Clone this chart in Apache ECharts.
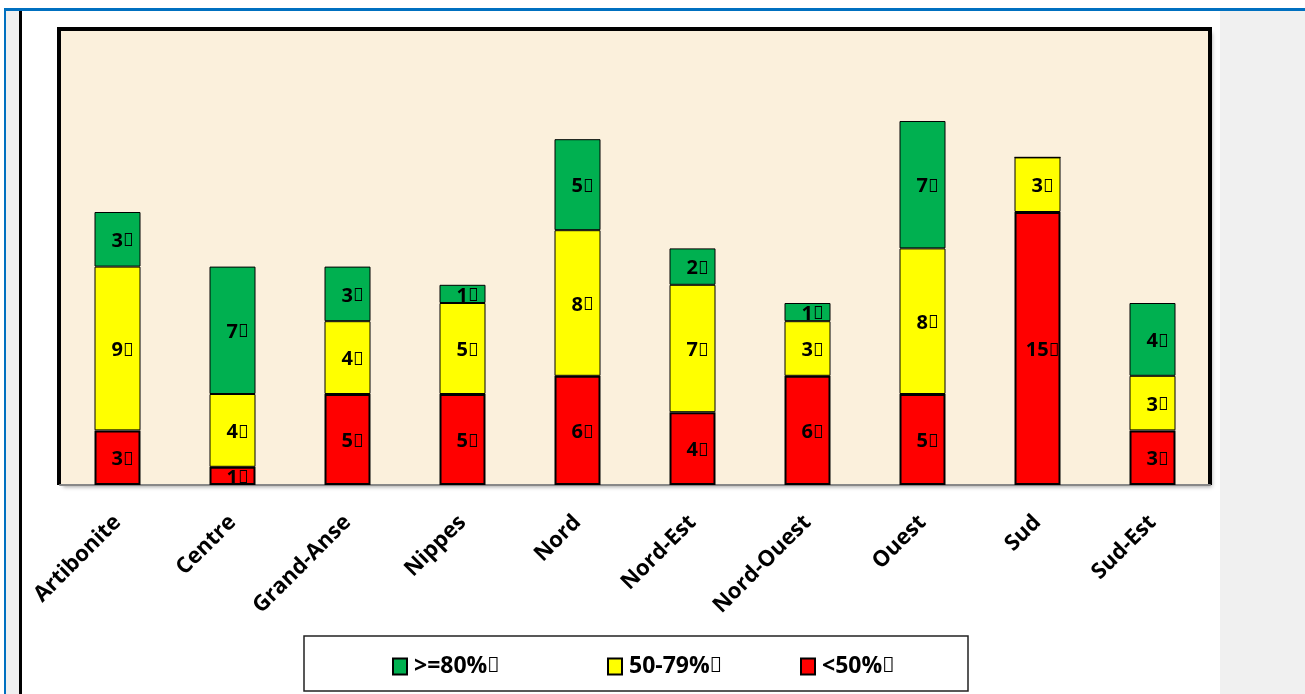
<!DOCTYPE html>
<html><head><meta charset="utf-8">
<script src="https://cdn.jsdelivr.net/npm/echarts@6/dist/echarts.min.js"></script>
<style>html,body{margin:0;padding:0;background:#fff}#c{width:1305px;height:694px}</style>
</head><body><div id="c"></div>
<script>
const BOX = '\uE000';
const categories = ['Artibonite','Centre','Grand-Anse','Nippes','Nord','Nord-Est','Nord-Ouest','Ouest','Sud','Sud-Est'];
const redValues = [3,1,5,5,6,4,6,5,15,3];
const yellowValues = [9,4,4,5,8,7,3,8,3,3];
const greenValues = [3,7,3,1,5,2,1,7,0,4];
const seriesNames = ['<50%' + BOX, '50-79%' + BOX, '>=80%' + BOX];
const yMax = 25;

const chart = echarts.init(document.getElementById('c'));
const labelStyle = {
  show: true, position: 'inside', offset: [5, 2],
  color: '#000', fontWeight: 'bold', fontSize: 20, fontFamily: 'Open Sans',
  formatter: p => p.value ? '{d|' + p.value + '}{b|' + BOX + '}' : '',
  rich: {
    d: { fontWeight: 'bold', fontSize: 20, fontFamily: 'Open Sans', color: '#000' },
    b: { fontSize: 18, fontFamily: 'Noto Sans', color: '#000' }
  }
};
function mk(name, data, color, bw) {
  return {
    name, type: 'bar', stack: 'total', data, barWidth: 46,
    itemStyle: { color, borderColor: '#000', borderWidth: bw },
    label: labelStyle
  };
}
function lg(name, left) {
  return {
    data: [name], left, top: 655, padding: 0, itemWidth: 14, itemHeight: 16, itemGap: 0,
    icon: 'rect', selectedMode: false,
    formatter: n => '{t|' + n.slice(0, -1) + '}{b|' + BOX + '}',
    textStyle: {
      fontSize: 23, fontWeight: 'bold', fontFamily: 'Open Sans', color: '#000', padding: [0, 0, 0, 2],
      rich: {
        t: { fontSize: 23, fontWeight: 'bold', fontFamily: 'Open Sans', color: '#000' },
        b: { fontSize: 21, fontFamily: 'Noto Sans', color: '#000' }
      }
    }
  };
}
chart.setOption({
  animation: false,
  graphic: [
    { type: 'rect', shape: { x: 1220, y: 10, width: 85, height: 684 }, style: { fill: '#F0F0F0' }, z: -10 },
    { type: 'rect', shape: { x: 6, y: 10, width: 14, height: 684 }, style: { fill: '#F0F0F0' }, z: -10 },
    { type: 'rect', shape: { x: 4, y: 8, width: 1301, height: 3 }, style: { fill: '#0070C0' }, z: 10 },
    { type: 'rect', shape: { x: 4, y: 8, width: 2, height: 686 }, style: { fill: '#0070C0' }, z: 10 },
    { type: 'rect', shape: { x: 19, y: 11, width: 3, height: 683 }, style: { fill: '#000' }, z: 10 },
    { type: 'rect', shape: { x: 61, y: 31, width: 1149, height: 454 },
      style: { fill: '#FBF0DC', shadowBlur: 4, shadowOffsetX: 2, shadowOffsetY: 2, shadowColor: 'rgba(0,0,0,0.35)' }, z: -6 },
    { type: 'polyline', shape: { points: [[59, 485], [59, 29], [1210, 29], [1210, 485]] },
      style: { fill: null, stroke: '#000', lineWidth: 4 }, z: -5 },
    { type: 'rect', shape: { x: 304, y: 636, width: 664, height: 55 }, style: { fill: '#fff', stroke: '#222', lineWidth: 1.5 }, z: -5 }
  ],
  grid: { left: 60, right: 95, top: 30, bottom: 209 },
  legend: [lg(seriesNames[2], 392), lg(seriesNames[1], 607), lg(seriesNames[0], 800)],
  xAxis: {
    type: 'category', data: categories,
    axisLine: { lineStyle: { color: '#888', width: 2 } },
    axisTick: { lineStyle: { color: '#999' }, length: 7 },
    axisLabel: { rotate: 45, margin: 34, fontSize: 22, fontWeight: 'bold', fontFamily: 'Open Sans', color: '#000', interval: 0 }
  },
  yAxis: { type: 'value', min: 0, max: yMax, show: false, splitLine: { show: false } },
  series: [
    mk(seriesNames[0], redValues, '#FF0000', 2),
    mk(seriesNames[1], yellowValues, '#FFFF00', 1),
    mk(seriesNames[2], greenValues, '#00B050', 1)
  ]
});
</script></body></html>
